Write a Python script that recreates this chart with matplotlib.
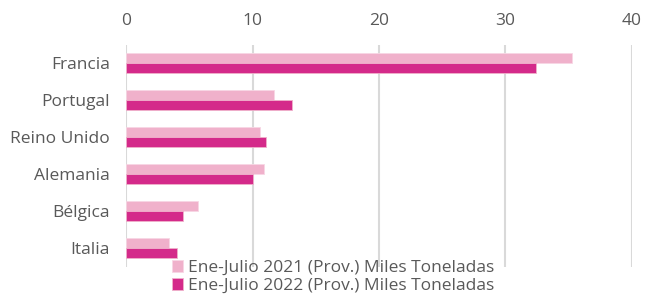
import matplotlib.pyplot as plt
import numpy as np

categories = ["Francia", "Portugal", "Reino Unido", "Alemania", "Bélgica", "Italia"]
values_2021 = [35.3, 11.7, 10.6, 10.9, 5.7, 3.4]
values_2022 = [32.4, 13.1, 11.1, 10.0, 4.5, 4.0]
series_labels = ["Ene-Julio 2021 (Prov.) Miles Toneladas", "Ene-Julio 2022 (Prov.) Miles Toneladas"]
xticks = [0, 10, 20, 30, 40]

plt.rcParams['font.family'] = ['Open Sans', 'DejaVu Sans']
text_color = "#595959"
fs = 12.5

fig = plt.figure(figsize=(6.46, 2.98), dpi=100)
W, H = 646, 298
left, right = 126.3, 631.5
top, bottom = 44.5, 266.5
ax = fig.add_axes([left / W, 1 - bottom / H, (right - left) / W, (bottom - top) / H])

y = np.arange(len(categories))
h = 0.27
ax.barh(y - h / 2, values_2021, height=h, color="#F0B1CB", edgecolor="#F7D6E4", linewidth=0.6,
        label=series_labels[0], zorder=3)
ax.barh(y + h / 2, values_2022, height=h, color="#D42A8A", edgecolor="#F0B1CB", linewidth=0.6,
        label=series_labels[1], zorder=3)

ax.set_xlim(0, 40)
ax.set_ylim(len(categories) - 0.5, -0.5)
ax.set_yticks(y)
ax.set_yticklabels(categories, fontsize=fs, color=text_color)
ax.set_xticks(xticks)
ax.xaxis.tick_top()
ax.set_xticklabels([str(t) for t in xticks], fontsize=fs, color=text_color)
ax.tick_params(axis='y', length=0, pad=12)
ax.tick_params(axis='x', length=0, pad=11)
ax.grid(axis='x', color="#D9D9D9", linewidth=1.5, zorder=0)
for s in ax.spines.values():
    s.set_visible(False)

leg = fig.legend(loc='upper left', bbox_to_anchor=(172 / W, 1 - 260 / H), frameon=False,
                 fontsize=fs, handlelength=0.65, handleheight=0.65, handletextpad=0.3,
                 labelspacing=0.12, borderaxespad=0, borderpad=0)
for t in leg.get_texts():
    t.set_color(text_color)

fig.savefig("out.png", dpi=100)
